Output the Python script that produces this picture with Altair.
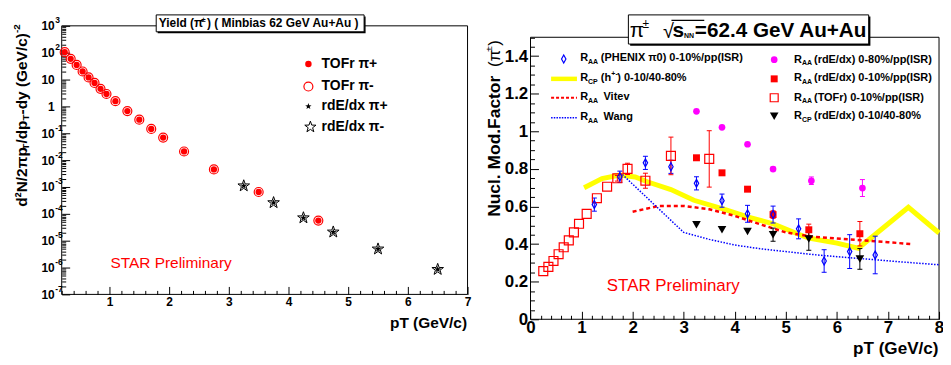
import math
import altair as alt
import pandas as pd

FONT = "Liberation Sans"
W, H = 940, 349
OX, OY = 8, 8

# ---------------- left panel: pion spectra ----------------
tofr_pt = [0.25, 0.35, 0.45, 0.55, 0.65, 0.75, 0.85, 0.95, 1.1, 1.3, 1.5, 1.7, 1.9, 2.25, 2.75, 3.5, 4.5]
tofr_pip = [105, 59, 35, 20, 12, 7.5, 4.5, 2.9, 1.57, 0.67, 0.32, 0.145, 0.069, 0.021, 0.0045, 6.5e-4, 5.6e-5]
tofr_pim = [105, 59, 35, 20, 12, 7.5, 4.5, 2.9, 1.57, 0.67, 0.32, 0.145, 0.069, 0.021, 0.0045, 6.5e-4, 5.6e-5]
rde_pt = [3.25, 3.75, 4.25, 4.75, 5.5, 6.5]
rde_pip = [1.1e-3, 2.6e-4, 7.1e-5, 2.1e-5, 4.9e-6, 8.5e-7]
rde_pim = [1.1e-3, 2.6e-4, 7.1e-5, 2.1e-5, 4.9e-6, 8.5e-7]

left_x_dom = [0.2, 7]
left_y_dom = [1e-7, 1e3]
left_x_major = [1, 2, 3, 4, 5, 6, 7]
left_y_major = [1e-7, 1e-6, 1e-5, 1e-4, 1e-3, 1e-2, 1e-1, 1, 10, 100, 1000]
exp_vals = [1e3, 1e2, 1e-1, 1e-2, 1e-3, 1e-4, 1e-5, 1e-6, 1e-7]
exp_txt = ["3", "2", "-1", "-2", "-3", "-4", "-5", "-6", "-7"]

# ---------------- right panel: nuclear modification factor ----------------
phenix_pt = [1.25, 1.75, 2.25, 2.75, 3.25, 3.75, 4.25, 4.75, 5.25, 5.75, 6.25, 6.75]
phenix = [0.61, 0.758, 0.832, 0.811, 0.723, 0.631, 0.561, 0.557, 0.481, 0.31, 0.36, 0.342]
phenix_err = [0.035, 0.03, 0.035, 0.035, 0.035, 0.035, 0.045, 0.045, 0.053, 0.06, 0.09, 0.1]

tofr_raa_pt = [0.25, 0.35, 0.45, 0.55, 0.65, 0.75, 0.85, 0.95, 1.1, 1.3, 1.5, 1.7, 1.9, 2.25, 2.75, 3.5]
tofr_raa = [0.256, 0.279, 0.31, 0.346, 0.383, 0.42, 0.462, 0.508, 0.561, 0.644, 0.705, 0.75, 0.80, 0.737, 0.869, 0.853]
tofr_raa_err = [0, 0, 0, 0, 0, 0, 0, 0, 0, 0, 0, 0.015, 0.03, 0.04, 0.10, 0.15]

rde10_pt = [3.25, 3.75, 4.25, 4.75, 5.45, 6.45]
rde10 = [0.859, 0.779, 0.692, 0.557, 0.476, 0.455]
rde10_err = [0, 0, 0.01, 0.02, 0.03, 0.065]

rde80_pt = [3.25, 3.75, 4.25, 4.75, 5.5, 6.5]
rde80 = [1.106, 1.021, 0.931, 0.799, 0.737, 0.698]
rde80_err = [0, 0, 0, 0.01, 0.02, 0.045]

rcp_pt = [3.25, 3.75, 4.25, 4.75, 5.45, 6.45]
rcp = [0.503, 0.476, 0.467, 0.45, 0.427, 0.321]
rcp_err = [0, 0, 0, 0.035, 0.06, 0.055]

rcph_pt = [1.05, 1.4, 1.75, 2.05, 2.3, 2.75, 3.2, 3.8, 4.25, 4.75, 5.25, 5.45, 6.0, 6.42, 7.4, 8.0]
rcph = [0.70, 0.748, 0.767, 0.757, 0.73, 0.69, 0.633, 0.584, 0.545, 0.508, 0.452, 0.432, 0.405, 0.378, 0.596, 0.459]

vitev_pt = [2.0, 2.5, 3.0, 3.5, 4.0, 4.5, 5.0, 5.5, 6.0, 6.5, 7.0, 7.45]
vitev = [0.572, 0.602, 0.603, 0.585, 0.55, 0.505, 0.462, 0.44, 0.43, 0.42, 0.41, 0.40]

wang_pt = [1.8, 3.0, 3.5, 4.0, 4.5, 5.0, 5.5, 6.0, 6.5, 7.0, 7.5, 8.0]
wang = [0.77, 0.462, 0.425, 0.395, 0.375, 0.36, 0.345, 0.333, 0.322, 0.311, 0.30, 0.29]

right_x_dom = [0, 8]
right_y_dom = [0, 1.5]
right_x_major = [0, 1, 2, 3, 4, 5, 6, 7, 8]
right_y_major = [0, 0.2, 0.4, 0.6, 0.8, 1.0, 1.2, 1.4]

# ---------------- minor tick positions ----------------
left_x_minor = [round(0.2 * i, 1) for i in range(1, 36) if i % 5 != 0]
left_y_minor = [k * 10.0 ** e for e in range(-7, 3) for k in range(2, 10)]
right_x_minor = [round(0.2 * i, 1) for i in range(41) if i % 5 != 0]
right_y_minor = [round(0.05 * i, 2) for i in range(31) if i % 4 != 0]

# ---------------- scales (pixel ranges inside one canvas) ----------------
lx = alt.Scale(domain=left_x_dom, range=[54, 462], nice=False, zero=False)
ly = alt.Scale(type="log", domain=left_y_dom, range=[287, 17], nice=False)
rx = alt.Scale(domain=right_x_dom, range=[525.3, 936], nice=False, zero=False)
ry = alt.Scale(domain=right_y_dom, range=[312, 28.5], nice=False, zero=False)

RED, BLUE, MAG, YEL = "#ff0000", "#0000ff", "#ff00ff", "#ffff00"


def lab_axis(orient, offset, values, size, pad, **kw):
    return alt.Axis(orient=orient, offset=offset, values=values, ticks=False, tickSize=0,
                    domain=False, grid=False, labelFont=FONT, labelFontWeight="bold",
                    labelFontSize=size, labelColor="black", labelPadding=pad,
                    labelOverlap=False, labelFlush=False, title=None, **kw)


def tick_axis(orient, offset, values, length):
    return alt.Axis(orient=orient, offset=offset, values=values, ticks=True, tickSize=length,
                    tickColor="black", tickWidth=1, domain=False, grid=False, labels=False,
                    title=None)


def star_path(r_in=0.4):
    pts = []
    for i in range(10):
        r = 1.0 if i % 2 == 0 else r_in
        a = math.radians(-90 + 36 * i)
        pts.append(f"{r * math.cos(a):.3f},{r * math.sin(a):.3f}")
    return "M" + "L".join(pts) + "Z"


STAR = star_path()
DIAMOND = "M0,-1L0.55,0L0,1L-0.55,0Z"
one = pd.DataFrame({"k": [0]})


def T(s, x, y, size, bold=True, color="black", align="left", angle=0):
    kw = dict(align=align, baseline="middle", fontSize=size,
              fontWeight="bold" if bold else "normal", font=FONT, color=color)
    if angle:
        kw["angle"] = angle
    return alt.Chart(pd.DataFrame({"s": [s]})).mark_text(**kw).encode(
        x=alt.value(x - OX), y=alt.value(y - OY), text="s:N")


def RECT(x1, y1, x2, y2, fill, stroke=None, sw=1):
    kw = dict(fill=fill)
    if stroke:
        kw.update(stroke=stroke, strokeWidth=sw)
    return alt.Chart(one).mark_rect(**kw).encode(
        x=alt.value(x1 - OX), x2=alt.value(x2 - OX), y=alt.value(y1 - OY), y2=alt.value(y2 - OY))


def LINE(x1, x2, y, color, width, dash=None):
    kw = dict(color=color, strokeWidth=width)
    if dash:
        kw["strokeDash"] = dash
    return alt.Chart(one).mark_rule(**kw).encode(
        x=alt.value(x1 - OX), x2=alt.value(x2 - OX), y=alt.value(y - OY))


def MK(x, y, shape, size, color, filled, sw=1.0):
    return alt.Chart(one).mark_point(shape=shape, size=size, filled=filled, color=color,
                                     strokeWidth=sw, opacity=1).encode(
        x=alt.value(x - OX), y=alt.value(y - OY))


# ================= LEFT PANEL =================
df_tp = pd.DataFrame({"pt": tofr_pt, "v": tofr_pip})
df_tm = pd.DataFrame({"pt": tofr_pt, "v": tofr_pim})
df_rp = pd.DataFrame({"pt": rde_pt, "v": rde_pip})
df_rm = pd.DataFrame({"pt": rde_pt, "v": rde_pim})

frame_l = alt.Chart(one).mark_rect(fillOpacity=0, stroke="black", strokeWidth=1).encode(
    x=alt.XDatum(left_x_dom[0], type="quantitative", scale=lx, axis=None),
    x2=alt.X2Datum(left_x_dom[1]),
    y=alt.YDatum(left_y_dom[0], type="quantitative", scale=ly, axis=None),
    y2=alt.Y2Datum(left_y_dom[1]))

pim_l = alt.Chart(df_tm).mark_point(shape="circle", filled=False, size=81, color=RED,
                                    strokeWidth=1.2, opacity=1).encode(
    x=alt.X("pt:Q", scale=lx, axis=lab_axis("bottom", -62, left_x_major, 12, 2.4, format="d")),
    y=alt.Y("v:Q", scale=ly, axis=lab_axis("left", -54, left_y_major, 12, 7.5,
            labelExpr="datum.value > 0.999 && datum.value < 1.001 ? '1' : '10'")))
pip_l = alt.Chart(df_tp).mark_point(shape="circle", filled=True, size=40, color=RED, opacity=1).encode(
    x=alt.X("pt:Q", scale=lx, axis=tick_axis("top", -287, left_x_major, 8)),
    y=alt.Y("v:Q", scale=ly, axis=tick_axis("right", -(W - 54), left_y_major, 8)))
rp_l = alt.Chart(df_rp).mark_point(shape=STAR, filled=True, size=50, color="black", opacity=1).encode(
    x=alt.X("pt:Q", scale=lx, axis=tick_axis("top", -287, left_x_minor, 4)),
    y=alt.Y("v:Q", scale=ly, axis=tick_axis("right", -(W - 54), left_y_minor, 4)))
rm_l = alt.Chart(df_rm).mark_point(shape=STAR, filled=False, size=150, color="black",
                                   strokeWidth=1, opacity=1).encode(
    x=alt.X("pt:Q", scale=lx, axis=None),
    y=alt.Y("v:Q", scale=ly, axis=None))
exps = alt.Chart(pd.DataFrame({"v": exp_vals, "t": exp_txt})).mark_text(
    align="left", baseline="middle", dy=-5.5, fontSize=8.5, fontWeight="bold", font=FONT,
    color="black").encode(x=alt.value(55.5 - OX), y=alt.Y("v:Q", scale=ly, axis=None), text="t:N")

left_panel = alt.layer(frame_l, pim_l, pip_l, rp_l, rm_l, exps)

# ================= RIGHT PANEL =================
def errdf(pt, v, e):
    return pd.DataFrame({"pt": pt, "v": v, "e": e,
                         "lo": [a - b for a, b in zip(v, e)],
                         "hi": [a + b for a, b in zip(v, e)]})


df_ph = errdf(phenix_pt, phenix, phenix_err)
df_to = errdf(tofr_raa_pt, tofr_raa, tofr_raa_err)
df_10 = errdf(rde10_pt, rde10, rde10_err)
df_80 = errdf(rde80_pt, rde80, rde80_err)
df_cp = errdf(rcp_pt, rcp, rcp_err)


def errbars(df, color):
    base = alt.Chart(df).transform_filter("datum.e > 0")
    rule = base.mark_rule(color=color, strokeWidth=1).encode(
        x=alt.X("pt:Q", scale=rx, axis=None),
        y=alt.Y("lo:Q", scale=ry, axis=None), y2="hi:Q")
    caps = base.transform_fold(["lo", "hi"], as_=["kk", "yy"]).mark_tick(
        orient="horizontal", color=color, size=5, thickness=1, opacity=1).encode(
        x=alt.X("pt:Q", scale=rx, axis=None),
        y=alt.Y("yy:Q", scale=ry, axis=None))
    return [rule, caps]


frame_r = alt.Chart(one).mark_rect(fillOpacity=0, stroke="black", strokeWidth=1).encode(
    x=alt.XDatum(right_x_dom[0], type="quantitative", scale=rx, axis=None),
    x2=alt.X2Datum(right_x_dom[1]),
    y=alt.YDatum(right_y_dom[0], type="quantitative", scale=ry, axis=None),
    y2=alt.Y2Datum(right_y_dom[1]))

yel = alt.Chart(pd.DataFrame({"pt": rcph_pt, "v": rcph})).mark_line(color=YEL, strokeWidth=5).encode(
    x=alt.X("pt:Q", scale=rx, axis=None), y=alt.Y("v:Q", scale=ry, axis=None))
vit = alt.Chart(pd.DataFrame({"pt": vitev_pt, "v": vitev})).mark_line(
    color=RED, strokeWidth=2.5, strokeDash=[4, 3]).encode(
    x=alt.X("pt:Q", scale=rx, axis=None), y=alt.Y("v:Q", scale=ry, axis=None))
wan = alt.Chart(pd.DataFrame({"pt": wang_pt, "v": wang})).mark_line(
    color=BLUE, strokeWidth=1.5, strokeDash=[1.5, 1.5]).encode(
    x=alt.X("pt:Q", scale=rx, axis=None), y=alt.Y("v:Q", scale=ry, axis=None))

to_pts = alt.Chart(df_to).mark_point(shape="square", filled=False, size=81, color=RED,
                                     strokeWidth=1.2, opacity=1).encode(
    x=alt.X("pt:Q", scale=rx, axis=tick_axis("top", -312, right_x_major, 8)),
    y=alt.Y("v:Q", scale=ry, axis=tick_axis("right", -(W - 525.3), right_y_major, 8)))
r10_pts = alt.Chart(df_10).mark_point(shape="square", filled=True, size=49, color=RED, opacity=1).encode(
    x=alt.X("pt:Q", scale=rx, axis=tick_axis("top", -312, right_x_minor, 4)),
    y=alt.Y("v:Q", scale=ry, axis=tick_axis("right", -(W - 525.3), right_y_minor, 4)))
r80_pts = alt.Chart(df_80).mark_point(shape="circle", filled=True, size=45, color=MAG, opacity=1).encode(
    x=alt.X("pt:Q", scale=rx, axis=None), y=alt.Y("v:Q", scale=ry, axis=None))
cp_pts = alt.Chart(df_cp).mark_point(shape="triangle-down", filled=True, size=75, color="black",
                                     opacity=1).encode(
    x=alt.X("pt:Q", scale=rx, axis=None), y=alt.Y("v:Q", scale=ry, axis=None))
ph_pts = alt.Chart(df_ph).mark_point(shape=DIAMOND, filled=False, size=64, color=BLUE,
                                     strokeWidth=1.2, opacity=1).encode(
    x=alt.X("pt:Q", scale=rx, axis=lab_axis("bottom", -(H - 312), right_x_major, 17, 0.5, format="d")),
    y=alt.Y("v:Q", scale=ry, axis=lab_axis("left", -525.3, right_y_major, 17, 2.8, format=".1~f")))

right_layers = [frame_r, yel, vit, wan]
for d, c in [(df_ph, BLUE), (df_to, RED), (df_10, RED), (df_80, MAG), (df_cp, "black")]:
    right_layers += errbars(d, c)
right_layers += [to_pts, r10_pts, r80_pts, cp_pts, ph_pts]
right_panel = alt.layer(*right_layers)

# ================= texts, title boxes, legends =================
deco = []
# left title box
deco += [RECT(158.5, 15.5, 367.5, 32.5, "black"), RECT(157, 14, 366, 31, "white", "black", 1),
         T("Yield (π", 159.5, 22.5, 12), T("±", 202.3, 19, 8), T(") ( Minbias 62 GeV Au+Au )", 208, 22.5, 12)]
# right title box
deco += [RECT(633.5, 15.5, 875, 45, "black"), RECT(631.7, 14, 873.3, 43.3, "white", "black", 1),
         T("π", 633, 30, 21, bold=False), T("±", 646, 23, 12, bold=False),
         T("√", 666.5, 31, 20, bold=False), LINE(675, 708, 19.5, "black", 1.2),
         T("s", 676, 30, 21), T("NN", 687.6, 35, 7), T("=62.4 GeV Au+Au", 698.5, 30, 20.8)]
# left legend
leg_l_txt = ["TOFr π+", "TOFr π-", "rdE/dx π+", "rdE/dx π-"]
leg_l_y = [63.3, 86, 106, 126.7]
deco += [MK(310, 63.3, "circle", 42, RED, True), MK(310, 86, "circle", 81, RED, False, 1.2),
         MK(310, 106, STAR, 45, "black", True), MK(312, 126.7, STAR, 140, "black", False, 1)]
for s, yy in zip(leg_l_txt, leg_l_y):
    deco.append(T(s, 323.3, yy, 14))
# left axis titles and label
deco += [T("STAR Preliminary", 111, 263.5, 15.5, bold=False, color=RED),
         T("pT (GeV/c)", 469.5, 323.5, 15.5, align="right")]
yt = [("d²N/2πp", 21.7, 207, 15.5), ("T", 25.7, 149.5, 10), ("/dp", 21.7, 143.4, 15.5),
      ("T", 25.7, 120.2, 10), ("-dy (GeV/c)", 21.7, 114.1, 15.5), ("-2", 16.7, 32.3, 10)]
for s, xx, yy, fs in yt:
    deco.append(T(s, xx, yy, fs, angle=270))
# right axis titles
deco += [T("STAR Preliminary", 610, 286.7, 17, bold=False, color=RED),
         T("pT (GeV/c)", 943.5, 350, 17.2, align="right"),
         T("Nucl. Mod.Factor", 497.5, 217, 17.5, angle=270),
         T("(π", 497.5, 66.5, 17, bold=False, angle=270),
         T("±", 491.5, 51, 10, bold=False, angle=270),
         T(")", 497.5, 45, 17, bold=False, angle=270)]
# right legend, left column
rl_sub = ["AA", "CP", "AA", "AA"]
rl_y = [57.7, 77.7, 96.7, 116.7]
deco += [MK(566.7, 58.3, DIAMOND, 64, BLUE, False, 1.2),
         LINE(554, 580, 78.3, YEL, 4.5),
         LINE(554, 580, 97.3, RED, 2, [3, 2]),
         LINE(554, 580, 117.3, BLUE, 1.5, [1.5, 1.2])]
for sub, yy in zip(rl_sub, rl_y):
    deco += [T("R", 583.3, yy, 11), T(sub, 591.2, yy + 3.5, 7)]
deco += [T("(PHENIX π0) 0-10%/pp(ISR)", 604, 57.7, 11),
         T("(h", 604, 77.7, 11), T("+-", 614.6, 73.5, 7), T(") 0-10/40-80%", 620.5, 77.7, 11),
         T("Vitev", 606.7, 96.7, 11), T("Wang", 606.7, 116.7, 11)]
# right legend, right column
rr_sub = ["AA", "AA", "AA", "CP"]
rr_txt = ["(rdE/dx) 0-80%/pp(ISR)", "(rdE/dx) 0-10%/pp(ISR)", "(TOFr) 0-10%/pp(ISR)", "(rdE/dx) 0-10/40-80%"]
rr_y = [59, 77.7, 97.3, 116]
deco += [MK(778.3, 59, "circle", 45, MAG, True), MK(778.3, 78.3, "square", 49, RED, True),
         MK(778.3, 97.3, "square", 64, RED, False, 1.2), MK(778.3, 116, "triangle-down", 75, "black", True)]
for sub, s, yy in zip(rr_sub, rr_txt, rr_y):
    deco += [T("R", 798.3, yy, 11), T(sub, 806.2, yy + 3.5, 7), T(s, 818.3, yy, 11)]

chart = alt.layer(left_panel, right_panel, *deco).resolve_scale(
    x="independent", y="independent").properties(
    width=W, height=H, padding=0,
    autosize=alt.AutoSizeParams(type="none")).configure(
    background="white", view=alt.ViewConfig(stroke=None))

chart.save("out.html", embed_options={"renderer": "svg", "actions": False})
